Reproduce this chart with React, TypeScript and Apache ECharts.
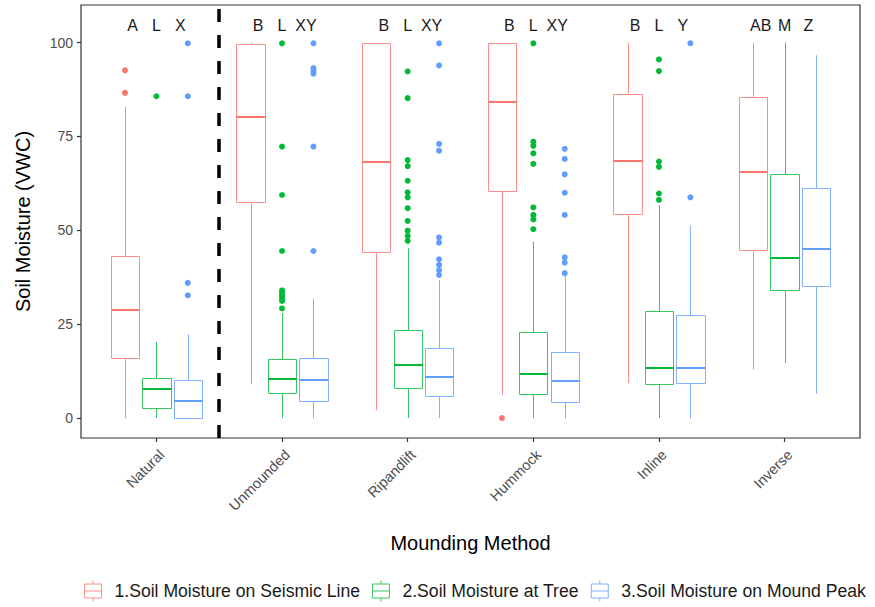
import React, { useEffect, useRef } from 'react';
import * as echarts from 'echarts';

const categories = ['Natural', 'Unmounded', 'Ripandlift', 'Hummock', 'Inline', 'Inverse'];
const seriesNames = [
  '1.Soil Moisture on Seismic Line',
  '2.Soil Moisture at Tree',
  '3.Soil Moisture on Mound Peak',
];
const colors = ['#F8766D', '#00BA38', '#619CFF'];
const lightColors = ['#F9918A', '#33C860', '#81B0FF'];

// [min, q1, median, q3, max] for each category
const seismicLineBoxes = [
  [0, 16.0, 28.7, 43.2, 82.8],
  [9.0, 57.6, 80.2, 99.6, 100],
  [2.1, 44.1, 68.2, 100, 100],
  [6.3, 60.6, 84.1, 100, 100],
  [9.3, 54.4, 68.5, 86.3, 100],
  [12.9, 44.7, 65.5, 85.4, 100],
];
const atTreeBoxes = [
  [0, 2.6, 7.7, 10.6, 20.3],
  [0, 6.7, 10.4, 15.7, 28.0],
  [0, 7.9, 14.1, 23.4, 45.2],
  [0, 6.3, 11.7, 22.8, 47.0],
  [0, 9.2, 13.4, 28.5, 56.7],
  [14.7, 34.2, 42.5, 65.1, 100],
];
const moundPeakBoxes = [
  [0, 0, 4.5, 10.2, 22.3],
  [0, 4.6, 10.1, 16.0, 31.8],
  [0, 5.8, 11.0, 18.7, 36.8],
  [0, 4.3, 9.9, 17.7, 38.0],
  [0, 9.4, 13.3, 27.4, 51.3],
  [6.5, 35.1, 44.9, 61.2, 96.6],
];

// outliers: [categoryIndex, value]
const seismicLineOutliers = [
  [0, 92.6], [0, 86.6], [3, 0],
];
const atTreeOutliers = [
  [0, 85.7],
  [1, 99.8], [1, 72.3], [1, 59.4], [1, 44.5], [1, 34.0], [1, 33.3], [1, 32.6], [1, 31.9], [1, 31.2], [1, 29.2],
  [2, 92.3], [2, 85.2], [2, 68.7], [2, 67.1], [2, 63.2], [2, 60.1], [2, 58.8], [2, 55.9], [2, 52.5], [2, 49.9], [2, 48.5], [2, 47.2],
  [3, 99.8], [3, 73.6], [3, 72.5], [3, 70.5], [3, 67.7], [3, 56.1], [3, 54.1], [3, 52.9], [3, 50.3],
  [4, 95.5], [4, 92.4], [4, 68.3], [4, 66.9], [4, 59.8], [4, 58.1],
];
const moundPeakOutliers = [
  [0, 99.8], [0, 85.7], [0, 36.0], [0, 32.7],
  [1, 99.8], [1, 93.2], [1, 92.5], [1, 91.7], [1, 72.3], [1, 44.5],
  [2, 99.8], [2, 93.9], [2, 73.0], [2, 71.2], [2, 48.1], [2, 46.7], [2, 42.3], [2, 40.8], [2, 39.4], [2, 38.1],
  [3, 71.7], [3, 69.0], [3, 64.9], [3, 60.0], [3, 54.1], [3, 42.8], [3, 41.4], [3, 38.6],
  [4, 99.8], [4, 58.8],
];

// significance letters
const seismicLineLetters = ['A', 'B', 'B', 'B', 'B', 'AB'];
const atTreeLetters = ['L', 'L', 'L', 'L', 'L', 'M'];
const moundPeakLetters = ['X', 'XY', 'XY', 'XY', 'Y', 'Z'];
const letterLevel = 104.5;

const yTicks = [0, 25, 50, 75, 100];
const dividerAt = 0.5;

const FONT = '"Liberation Sans", Arial, Helvetica, sans-serif';
const dodge = [-0.25, 0, 0.25];
const letterDodge = [-0.19, 0, 0.19];
const boxWidth = 0.225;

const allBoxes = [seismicLineBoxes, atTreeBoxes, moundPeakBoxes];
const allOutliers = [seismicLineOutliers, atTreeOutliers, moundPeakOutliers];
const allLetters = [seismicLineLetters, atTreeLetters, moundPeakLetters];

const snap = (v: number) => Math.round(v) + 0.5;

function makeBoxSeries(idx: number): any {
  return {
    type: 'custom',
    name: seriesNames[idx],
    data: allBoxes[idx].map((b, i) => [i, ...b]),
    encode: { x: 0, y: [1, 2, 3, 4, 5] },
    z: 2,
    renderItem: (params: any, api: any) => {
      const cx = api.value(0) + dodge[idx];
      const half = api.size([boxWidth, 0])[0] / 2;
      const pMin = api.coord([cx, api.value(1)]);
      const pQ1 = api.coord([cx, api.value(2)]);
      const pMed = api.coord([cx, api.value(3)]);
      const pQ3 = api.coord([cx, api.value(4)]);
      const pMax = api.coord([cx, api.value(5)]);
      const x = snap(pMin[0]);
      const left = snap(pMin[0] - half);
      const right = snap(pMin[0] + half);
      const top = snap(pQ3[1]);
      const bottom = snap(pQ1[1]);
      const ls = { stroke: lightColors[idx], lineWidth: 1, fill: 'none' };
      return {
        type: 'group',
        children: [
          { type: 'line', shape: { x1: x, y1: top, x2: x, y2: pMax[1] }, style: ls },
          { type: 'line', shape: { x1: x, y1: bottom, x2: x, y2: pMin[1] }, style: ls },
          {
            type: 'rect',
            shape: { x: left, y: top, width: right - left, height: bottom - top },
            style: { fill: '#ffffff', stroke: lightColors[idx], lineWidth: 1 },
          },
          {
            type: 'line',
            shape: { x1: left, y1: Math.round(pMed[1]), x2: right, y2: Math.round(pMed[1]) },
            style: { stroke: colors[idx], lineWidth: 2 },
          },
        ],
      };
    },
  };
}

function makeOutlierSeries(idx: number): any {
  return {
    type: 'scatter',
    name: seriesNames[idx],
    data: allOutliers[idx].map(([c, v]) => [c + dodge[idx], v]),
    symbol: 'circle',
    symbolSize: 6,
    itemStyle: { color: colors[idx], opacity: 1 },
    z: 3,
  };
}

function makeLetterSeries(idx: number): any {
  const s: any = {
    type: 'custom',
    name: 'letters' + idx,
    data: allLetters[idx].map((_, i) => [i + letterDodge[idx], letterLevel]),
    encode: { x: 0, y: 1 },
    z: 4,
    renderItem: (params: any, api: any) => {
      const p = api.coord([api.value(0), api.value(1)]);
      return {
        type: 'text',
        style: {
          text: allLetters[idx][params.dataIndex],
          x: p[0],
          y: p[1],
          align: 'center',
          verticalAlign: 'middle',
          fontSize: 16,
          fontFamily: FONT,
          fill: '#1a1a1a',
        },
      };
    },
  };
  if (idx === 0) {
    s.markLine = {
      silent: true,
      symbol: ['none', 'none'],
      label: { show: false },
      lineStyle: { color: '#000000', width: 3.5, type: [13, 13], opacity: 1 },
      emphasis: { disabled: true },
      data: [{ xAxis: dividerAt }],
    };
  }
  return s;
}

const legendIcon = 'path://M8.5,0V3.5M0,3.5H17V17.5H0ZM0,10.5H17M8.5,17.5V21';

export default function App() {
  const ref = useRef<HTMLDivElement>(null);
  useEffect(() => {
    if (!ref.current) return;
    const chart = echarts.init(ref.current, null, { renderer: 'svg' });
    const option: any = {
      animation: false,
      backgroundColor: '#ffffff',
      textStyle: { fontFamily: FONT },
      grid: {
        left: 81,
        right: 15,
        top: 5,
        bottom: 169,
        show: true,
        borderColor: '#333333',
        borderWidth: 1.2,
        backgroundColor: 'transparent',
      },
      legend: {
        left: 84,
        top: 580,
        width: 790,
        padding: 0,
        itemWidth: 17,
        itemHeight: 21,
        itemGap: 12,
        selectedMode: false,
        textStyle: { fontSize: 17.6, color: '#1a1a1a', fontFamily: FONT, padding: [0, 0, 0, 8] },
        data: seriesNames.map((n, i) => ({
          name: n,
          icon: legendIcon,
          itemStyle: { color: 'transparent', borderColor: lightColors[i], borderWidth: 1 },
        })),
      },
      xAxis: {
        type: 'value',
        min: -0.6,
        max: 5.6,
        name: 'Mounding Method',
        nameLocation: 'middle',
        nameGap: 95,
        nameTextStyle: { fontSize: 20, color: '#000000', fontFamily: FONT },
        axisLine: { show: false, onZero: false },
        axisTick: {
          show: true,
          customValues: categories.map((_, i) => i),
          length: 4,
          lineStyle: { color: '#333333', width: 1.2 },
        },
        axisLabel: {
          show: true,
          customValues: categories.map((_, i) => i),
          formatter: (v: number) => categories[Math.round(v)] ?? '',
          rotate: 45,
          verticalAlign: 'top',
          margin: 9,
          fontSize: 14.5,
          color: '#4d4d4d',
          fontFamily: FONT,
        },
        splitLine: { show: false },
      },
      yAxis: {
        type: 'value',
        min: -5.3,
        max: 110,
        name: 'Soil Moisture (VWC)',
        nameLocation: 'middle',
        nameGap: 48,
        nameTextStyle: { fontSize: 20, color: '#000000', fontFamily: FONT },
        axisLine: { show: false, onZero: false },
        axisTick: {
          show: true,
          customValues: yTicks,
          length: 4,
          lineStyle: { color: '#333333', width: 1.2 },
        },
        axisLabel: {
          show: true,
          customValues: yTicks,
          margin: 8,
          fontSize: 14,
          color: '#4d4d4d',
          fontFamily: FONT,
        },
        splitLine: { show: false },
      },
      series: [
        makeBoxSeries(0),
        makeBoxSeries(1),
        makeBoxSeries(2),
        makeOutlierSeries(0),
        makeOutlierSeries(1),
        makeOutlierSeries(2),
        makeLetterSeries(0),
        makeLetterSeries(1),
        makeLetterSeries(2),
      ],
    };
    chart.setOption(option);
    return () => chart.dispose();
  }, []);
  return (
    <div
      ref={ref}
      style={{ position: 'absolute', left: 0, top: 0, width: 875, height: 607, background: '#fff' }}
    />
  );
}
